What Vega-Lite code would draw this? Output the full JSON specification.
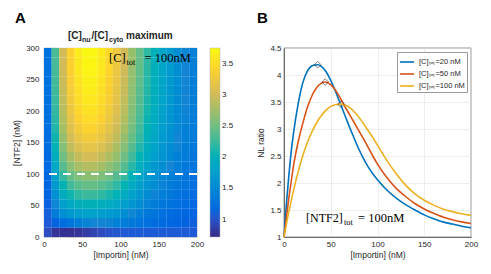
{
  "$schema": "https://vega.github.io/schema/vega-lite/v6.json",
  "padding": {"left": 12, "top": 10, "right": 5, "bottom": 5},
  "spacing": 21,
  "config": {
    "font": "Liberation Sans",
    "view": {"stroke": "#262626", "strokeWidth": 0.6},
    "axis": {"labelFontSize": 8, "titleFontSize": 8.5, "titleFontWeight": "normal", "labelColor": "#262626", "titleColor": "#262626", "tickSize": 0, "tickColor": "transparent", "domainColor": "#262626", "domainWidth": 0.6, "gridColor": "#e3e3e3", "gridWidth": 0.6, "labelFlush": false}
  },
  "datasets": {
    "heat": [
      {"i":5,"n":7.5,"v":0.95},{"i":15,"n":7.5,"v":0.8},{"i":25,"n":7.5,"v":0.77},{"i":35,"n":7.5,"v":0.77},{"i":45,"n":7.5,"v":0.8},{"i":55,"n":7.5,"v":0.85},{"i":65,"n":7.5,"v":0.9},{"i":75,"n":7.5,"v":0.95},{"i":85,"n":7.5,"v":1.0},{"i":95,"n":7.5,"v":1.02},{"i":105,"n":7.5,"v":1.04},{"i":115,"n":7.5,"v":1.05},{"i":125,"n":7.5,"v":1.05},{"i":135,"n":7.5,"v":1.05},{"i":145,"n":7.5,"v":1.05},{"i":155,"n":7.5,"v":1.05},{"i":165,"n":7.5,"v":1.05},{"i":175,"n":7.5,"v":1.05},{"i":185,"n":7.5,"v":1.05},{"i":195,"n":7.5,"v":1.05},
      {"i":5,"n":22.5,"v":1.05},{"i":15,"n":22.5,"v":1.1},{"i":25,"n":22.5,"v":1.2},{"i":35,"n":22.5,"v":1.3},{"i":45,"n":22.5,"v":1.38},{"i":55,"n":22.5,"v":1.45},{"i":65,"n":22.5,"v":1.48},{"i":75,"n":22.5,"v":1.48},{"i":85,"n":22.5,"v":1.46},{"i":95,"n":22.5,"v":1.42},{"i":105,"n":22.5,"v":1.38},{"i":115,"n":22.5,"v":1.33},{"i":125,"n":22.5,"v":1.28},{"i":135,"n":22.5,"v":1.24},{"i":145,"n":22.5,"v":1.2},{"i":155,"n":22.5,"v":1.17},{"i":165,"n":22.5,"v":1.15},{"i":175,"n":22.5,"v":1.12},{"i":185,"n":22.5,"v":1.1},{"i":195,"n":22.5,"v":1.08},
      {"i":5,"n":37.5,"v":1.07},{"i":15,"n":37.5,"v":1.37},{"i":25,"n":37.5,"v":1.58},{"i":35,"n":37.5,"v":1.69},{"i":45,"n":37.5,"v":1.75},{"i":55,"n":37.5,"v":1.78},{"i":65,"n":37.5,"v":1.78},{"i":75,"n":37.5,"v":1.75},{"i":85,"n":37.5,"v":1.7},{"i":95,"n":37.5,"v":1.65},{"i":105,"n":37.5,"v":1.58},{"i":115,"n":37.5,"v":1.49},{"i":125,"n":37.5,"v":1.41},{"i":135,"n":37.5,"v":1.34},{"i":145,"n":37.5,"v":1.29},{"i":155,"n":37.5,"v":1.24},{"i":165,"n":37.5,"v":1.2},{"i":175,"n":37.5,"v":1.16},{"i":185,"n":37.5,"v":1.14},{"i":195,"n":37.5,"v":1.12},
      {"i":5,"n":52.5,"v":1.09},{"i":15,"n":52.5,"v":1.49},{"i":25,"n":52.5,"v":1.76},{"i":35,"n":52.5,"v":1.91},{"i":45,"n":52.5,"v":1.99},{"i":55,"n":52.5,"v":2.03},{"i":65,"n":52.5,"v":2.03},{"i":75,"n":52.5,"v":1.99},{"i":85,"n":52.5,"v":1.93},{"i":95,"n":52.5,"v":1.85},{"i":105,"n":52.5,"v":1.76},{"i":115,"n":52.5,"v":1.65},{"i":125,"n":52.5,"v":1.55},{"i":135,"n":52.5,"v":1.45},{"i":145,"n":52.5,"v":1.38},{"i":155,"n":52.5,"v":1.32},{"i":165,"n":52.5,"v":1.27},{"i":175,"n":52.5,"v":1.22},{"i":185,"n":52.5,"v":1.19},{"i":195,"n":52.5,"v":1.15},
      {"i":5,"n":67.5,"v":1.11},{"i":15,"n":67.5,"v":1.6},{"i":25,"n":67.5,"v":1.93},{"i":35,"n":67.5,"v":2.1},{"i":45,"n":67.5,"v":2.2},{"i":55,"n":67.5,"v":2.25},{"i":65,"n":67.5,"v":2.25},{"i":75,"n":67.5,"v":2.2},{"i":85,"n":67.5,"v":2.13},{"i":95,"n":67.5,"v":2.04},{"i":105,"n":67.5,"v":1.93},{"i":115,"n":67.5,"v":1.79},{"i":125,"n":67.5,"v":1.66},{"i":135,"n":67.5,"v":1.55},{"i":145,"n":67.5,"v":1.46},{"i":155,"n":67.5,"v":1.39},{"i":165,"n":67.5,"v":1.33},{"i":175,"n":67.5,"v":1.26},{"i":185,"n":67.5,"v":1.23},{"i":195,"n":67.5,"v":1.19},
      {"i":5,"n":82.5,"v":1.13},{"i":15,"n":82.5,"v":1.7},{"i":25,"n":82.5,"v":2.07},{"i":35,"n":82.5,"v":2.28},{"i":45,"n":82.5,"v":2.39},{"i":55,"n":82.5,"v":2.45},{"i":65,"n":82.5,"v":2.45},{"i":75,"n":82.5,"v":2.39},{"i":85,"n":82.5,"v":2.31},{"i":95,"n":82.5,"v":2.2},{"i":105,"n":82.5,"v":2.07},{"i":115,"n":82.5,"v":1.91},{"i":125,"n":82.5,"v":1.77},{"i":135,"n":82.5,"v":1.64},{"i":145,"n":82.5,"v":1.54},{"i":155,"n":82.5,"v":1.45},{"i":165,"n":82.5,"v":1.38},{"i":175,"n":82.5,"v":1.3},{"i":185,"n":82.5,"v":1.26},{"i":195,"n":82.5,"v":1.22},
      {"i":5,"n":97.5,"v":1.15},{"i":15,"n":97.5,"v":1.79},{"i":25,"n":97.5,"v":2.22},{"i":35,"n":97.5,"v":2.45},{"i":45,"n":97.5,"v":2.58},{"i":55,"n":97.5,"v":2.65},{"i":65,"n":97.5,"v":2.65},{"i":75,"n":97.5,"v":2.58},{"i":85,"n":97.5,"v":2.49},{"i":95,"n":97.5,"v":2.37},{"i":105,"n":97.5,"v":2.22},{"i":115,"n":97.5,"v":2.04},{"i":125,"n":97.5,"v":1.87},{"i":135,"n":97.5,"v":1.73},{"i":145,"n":97.5,"v":1.61},{"i":155,"n":97.5,"v":1.51},{"i":165,"n":97.5,"v":1.43},{"i":175,"n":97.5,"v":1.35},{"i":185,"n":97.5,"v":1.3},{"i":195,"n":97.5,"v":1.25},
      {"i":5,"n":112.5,"v":1.17},{"i":15,"n":112.5,"v":1.89},{"i":25,"n":112.5,"v":2.37},{"i":35,"n":112.5,"v":2.63},{"i":45,"n":112.5,"v":2.78},{"i":55,"n":112.5,"v":2.85},{"i":65,"n":112.5,"v":2.85},{"i":75,"n":112.5,"v":2.78},{"i":85,"n":112.5,"v":2.67},{"i":95,"n":112.5,"v":2.54},{"i":105,"n":112.5,"v":2.37},{"i":115,"n":112.5,"v":2.17},{"i":125,"n":112.5,"v":1.98},{"i":135,"n":112.5,"v":1.81},{"i":145,"n":112.5,"v":1.68},{"i":155,"n":112.5,"v":1.57},{"i":165,"n":112.5,"v":1.48},{"i":175,"n":112.5,"v":1.39},{"i":185,"n":112.5,"v":1.33},{"i":195,"n":112.5,"v":1.28},
      {"i":5,"n":127.5,"v":1.18},{"i":15,"n":127.5,"v":1.97},{"i":25,"n":127.5,"v":2.49},{"i":35,"n":127.5,"v":2.78},{"i":45,"n":127.5,"v":2.94},{"i":55,"n":127.5,"v":3.02},{"i":65,"n":127.5,"v":3.02},{"i":75,"n":127.5,"v":2.94},{"i":85,"n":127.5,"v":2.82},{"i":95,"n":127.5,"v":2.68},{"i":105,"n":127.5,"v":2.49},{"i":115,"n":127.5,"v":2.27},{"i":125,"n":127.5,"v":2.07},{"i":135,"n":127.5,"v":1.89},{"i":145,"n":127.5,"v":1.75},{"i":155,"n":127.5,"v":1.63},{"i":165,"n":127.5,"v":1.53},{"i":175,"n":127.5,"v":1.42},{"i":185,"n":127.5,"v":1.36},{"i":195,"n":127.5,"v":1.3},
      {"i":5,"n":142.5,"v":1.2},{"i":15,"n":142.5,"v":2.04},{"i":25,"n":142.5,"v":2.61},{"i":35,"n":142.5,"v":2.91},{"i":45,"n":142.5,"v":3.08},{"i":55,"n":142.5,"v":3.17},{"i":65,"n":142.5,"v":3.17},{"i":75,"n":142.5,"v":3.08},{"i":85,"n":142.5,"v":2.95},{"i":95,"n":142.5,"v":2.8},{"i":105,"n":142.5,"v":2.61},{"i":115,"n":142.5,"v":2.37},{"i":125,"n":142.5,"v":2.15},{"i":135,"n":142.5,"v":1.95},{"i":145,"n":142.5,"v":1.8},{"i":155,"n":142.5,"v":1.67},{"i":165,"n":142.5,"v":1.56},{"i":175,"n":142.5,"v":1.46},{"i":185,"n":142.5,"v":1.39},{"i":195,"n":142.5,"v":1.33},
      {"i":5,"n":157.5,"v":1.21},{"i":15,"n":157.5,"v":2.1},{"i":25,"n":157.5,"v":2.7},{"i":35,"n":157.5,"v":3.02},{"i":45,"n":157.5,"v":3.21},{"i":55,"n":157.5,"v":3.3},{"i":65,"n":157.5,"v":3.3},{"i":75,"n":157.5,"v":3.21},{"i":85,"n":157.5,"v":3.07},{"i":95,"n":157.5,"v":2.91},{"i":105,"n":157.5,"v":2.7},{"i":115,"n":157.5,"v":2.45},{"i":125,"n":157.5,"v":2.22},{"i":135,"n":157.5,"v":2.01},{"i":145,"n":157.5,"v":1.85},{"i":155,"n":157.5,"v":1.71},{"i":165,"n":157.5,"v":1.6},{"i":175,"n":157.5,"v":1.48},{"i":185,"n":157.5,"v":1.41},{"i":195,"n":157.5,"v":1.35},
      {"i":5,"n":172.5,"v":1.22},{"i":15,"n":172.5,"v":2.15},{"i":25,"n":172.5,"v":2.78},{"i":35,"n":172.5,"v":3.11},{"i":45,"n":172.5,"v":3.3},{"i":55,"n":172.5,"v":3.4},{"i":65,"n":172.5,"v":3.4},{"i":75,"n":172.5,"v":3.3},{"i":85,"n":172.5,"v":3.16},{"i":95,"n":172.5,"v":2.99},{"i":105,"n":172.5,"v":2.78},{"i":115,"n":172.5,"v":2.51},{"i":125,"n":172.5,"v":2.27},{"i":135,"n":172.5,"v":2.06},{"i":145,"n":172.5,"v":1.89},{"i":155,"n":172.5,"v":1.74},{"i":165,"n":172.5,"v":1.62},{"i":175,"n":172.5,"v":1.5},{"i":185,"n":172.5,"v":1.43},{"i":195,"n":172.5,"v":1.36},
      {"i":5,"n":187.5,"v":1.22},{"i":15,"n":187.5,"v":2.19},{"i":25,"n":187.5,"v":2.84},{"i":35,"n":187.5,"v":3.18},{"i":45,"n":187.5,"v":3.38},{"i":55,"n":187.5,"v":3.48},{"i":65,"n":187.5,"v":3.48},{"i":75,"n":187.5,"v":3.38},{"i":85,"n":187.5,"v":3.23},{"i":95,"n":187.5,"v":3.06},{"i":105,"n":187.5,"v":2.84},{"i":115,"n":187.5,"v":2.56},{"i":125,"n":187.5,"v":2.31},{"i":135,"n":187.5,"v":2.09},{"i":145,"n":187.5,"v":1.92},{"i":155,"n":187.5,"v":1.77},{"i":165,"n":187.5,"v":1.64},{"i":175,"n":187.5,"v":1.52},{"i":185,"n":187.5,"v":1.45},{"i":195,"n":187.5,"v":1.37},
      {"i":5,"n":202.5,"v":1.23},{"i":15,"n":202.5,"v":2.22},{"i":25,"n":202.5,"v":2.88},{"i":35,"n":202.5,"v":3.24},{"i":45,"n":202.5,"v":3.44},{"i":55,"n":202.5,"v":3.54},{"i":65,"n":202.5,"v":3.54},{"i":75,"n":202.5,"v":3.44},{"i":85,"n":202.5,"v":3.29},{"i":95,"n":202.5,"v":3.11},{"i":105,"n":202.5,"v":2.88},{"i":115,"n":202.5,"v":2.6},{"i":125,"n":202.5,"v":2.35},{"i":135,"n":202.5,"v":2.12},{"i":145,"n":202.5,"v":1.94},{"i":155,"n":202.5,"v":1.79},{"i":165,"n":202.5,"v":1.66},{"i":175,"n":202.5,"v":1.53},{"i":185,"n":202.5,"v":1.46},{"i":195,"n":202.5,"v":1.38},
      {"i":5,"n":217.5,"v":1.23},{"i":15,"n":217.5,"v":2.24},{"i":25,"n":217.5,"v":2.92},{"i":35,"n":217.5,"v":3.28},{"i":45,"n":217.5,"v":3.49},{"i":55,"n":217.5,"v":3.59},{"i":65,"n":217.5,"v":3.59},{"i":75,"n":217.5,"v":3.49},{"i":85,"n":217.5,"v":3.33},{"i":95,"n":217.5,"v":3.15},{"i":105,"n":217.5,"v":2.92},{"i":115,"n":217.5,"v":2.63},{"i":125,"n":217.5,"v":2.37},{"i":135,"n":217.5,"v":2.14},{"i":145,"n":217.5,"v":1.96},{"i":155,"n":217.5,"v":1.8},{"i":165,"n":217.5,"v":1.67},{"i":175,"n":217.5,"v":1.54},{"i":185,"n":217.5,"v":1.47},{"i":195,"n":217.5,"v":1.39},
      {"i":5,"n":232.5,"v":1.24},{"i":15,"n":232.5,"v":2.26},{"i":25,"n":232.5,"v":2.95},{"i":35,"n":232.5,"v":3.31},{"i":45,"n":232.5,"v":3.52},{"i":55,"n":232.5,"v":3.63},{"i":65,"n":232.5,"v":3.63},{"i":75,"n":232.5,"v":3.52},{"i":85,"n":232.5,"v":3.37},{"i":95,"n":232.5,"v":3.18},{"i":105,"n":232.5,"v":2.95},{"i":115,"n":232.5,"v":2.66},{"i":125,"n":232.5,"v":2.39},{"i":135,"n":232.5,"v":2.16},{"i":145,"n":232.5,"v":1.97},{"i":155,"n":232.5,"v":1.82},{"i":165,"n":232.5,"v":1.68},{"i":175,"n":232.5,"v":1.55},{"i":185,"n":232.5,"v":1.47},{"i":195,"n":232.5,"v":1.39},
      {"i":5,"n":247.5,"v":1.24},{"i":15,"n":247.5,"v":2.28},{"i":25,"n":247.5,"v":2.97},{"i":35,"n":247.5,"v":3.34},{"i":45,"n":247.5,"v":3.55},{"i":55,"n":247.5,"v":3.66},{"i":65,"n":247.5,"v":3.66},{"i":75,"n":247.5,"v":3.55},{"i":85,"n":247.5,"v":3.39},{"i":95,"n":247.5,"v":3.21},{"i":105,"n":247.5,"v":2.97},{"i":115,"n":247.5,"v":2.68},{"i":125,"n":247.5,"v":2.41},{"i":135,"n":247.5,"v":2.17},{"i":145,"n":247.5,"v":1.98},{"i":155,"n":247.5,"v":1.82},{"i":165,"n":247.5,"v":1.69},{"i":175,"n":247.5,"v":1.56},{"i":185,"n":247.5,"v":1.48},{"i":195,"n":247.5,"v":1.4},
      {"i":5,"n":262.5,"v":1.24},{"i":15,"n":262.5,"v":2.29},{"i":25,"n":262.5,"v":2.99},{"i":35,"n":262.5,"v":3.37},{"i":45,"n":262.5,"v":3.58},{"i":55,"n":262.5,"v":3.69},{"i":65,"n":262.5,"v":3.69},{"i":75,"n":262.5,"v":3.58},{"i":85,"n":262.5,"v":3.42},{"i":95,"n":262.5,"v":3.23},{"i":105,"n":262.5,"v":2.99},{"i":115,"n":262.5,"v":2.69},{"i":125,"n":262.5,"v":2.43},{"i":135,"n":262.5,"v":2.18},{"i":145,"n":262.5,"v":2.0},{"i":155,"n":262.5,"v":1.83},{"i":165,"n":262.5,"v":1.7},{"i":175,"n":262.5,"v":1.56},{"i":185,"n":262.5,"v":1.48},{"i":195,"n":262.5,"v":1.4},
      {"i":5,"n":277.5,"v":1.24},{"i":15,"n":277.5,"v":2.3},{"i":25,"n":277.5,"v":3.01},{"i":35,"n":277.5,"v":3.38},{"i":45,"n":277.5,"v":3.6},{"i":55,"n":277.5,"v":3.71},{"i":65,"n":277.5,"v":3.71},{"i":75,"n":277.5,"v":3.6},{"i":85,"n":277.5,"v":3.44},{"i":95,"n":277.5,"v":3.25},{"i":105,"n":277.5,"v":3.01},{"i":115,"n":277.5,"v":2.71},{"i":125,"n":277.5,"v":2.44},{"i":135,"n":277.5,"v":2.19},{"i":145,"n":277.5,"v":2.0},{"i":155,"n":277.5,"v":1.84},{"i":165,"n":277.5,"v":1.7},{"i":175,"n":277.5,"v":1.57},{"i":185,"n":277.5,"v":1.49},{"i":195,"n":277.5,"v":1.41},
      {"i":5,"n":292.5,"v":1.24},{"i":15,"n":292.5,"v":2.31},{"i":25,"n":292.5,"v":3.01},{"i":35,"n":292.5,"v":3.39},{"i":45,"n":292.5,"v":3.61},{"i":55,"n":292.5,"v":3.72},{"i":65,"n":292.5,"v":3.72},{"i":75,"n":292.5,"v":3.61},{"i":85,"n":292.5,"v":3.45},{"i":95,"n":292.5,"v":3.26},{"i":105,"n":292.5,"v":3.01},{"i":115,"n":292.5,"v":2.71},{"i":125,"n":292.5,"v":2.44},{"i":135,"n":292.5,"v":2.2},{"i":145,"n":292.5,"v":2.01},{"i":155,"n":292.5,"v":1.84},{"i":165,"n":292.5,"v":1.71},{"i":175,"n":292.5,"v":1.57},{"i":185,"n":292.5,"v":1.49},{"i":195,"n":292.5,"v":1.41}
    ],
    "lines": [
      {"c":20,"x":0,"y":1.0},{"c":20,"x":2.5,"y":1.6},{"c":20,"x":5,"y":2.1},{"c":20,"x":7.5,"y":2.55},{"c":20,"x":10,"y":2.9},{"c":20,"x":15,"y":3.45},{"c":20,"x":20,"y":3.85},{"c":20,"x":25,"y":4.07},{"c":20,"x":30,"y":4.17},{"c":20,"x":36,"y":4.19},{"c":20,"x":40,"y":4.16},{"c":20,"x":45,"y":4.06},{"c":20,"x":50,"y":3.9},{"c":20,"x":55,"y":3.7},{"c":20,"x":60,"y":3.48},{"c":20,"x":65,"y":3.26},{"c":20,"x":70,"y":3.04},{"c":20,"x":75,"y":2.83},{"c":20,"x":80,"y":2.63},{"c":20,"x":85,"y":2.45},{"c":20,"x":90,"y":2.3},{"c":20,"x":95,"y":2.17},{"c":20,"x":100,"y":2.06},{"c":20,"x":110,"y":1.87},{"c":20,"x":120,"y":1.72},{"c":20,"x":130,"y":1.6},{"c":20,"x":140,"y":1.5},{"c":20,"x":150,"y":1.41},{"c":20,"x":160,"y":1.34},{"c":20,"x":170,"y":1.28},{"c":20,"x":180,"y":1.24},{"c":20,"x":190,"y":1.2},{"c":20,"x":200,"y":1.17},
      {"c":50,"x":0,"y":1.0},{"c":50,"x":2.5,"y":1.35},{"c":50,"x":5,"y":1.7},{"c":50,"x":7.5,"y":2.0},{"c":50,"x":10,"y":2.3},{"c":50,"x":15,"y":2.75},{"c":50,"x":20,"y":3.1},{"c":50,"x":25,"y":3.4},{"c":50,"x":30,"y":3.62},{"c":50,"x":35,"y":3.77},{"c":50,"x":40,"y":3.85},{"c":50,"x":44,"y":3.87},{"c":50,"x":50,"y":3.82},{"c":50,"x":55,"y":3.72},{"c":50,"x":60,"y":3.58},{"c":50,"x":65,"y":3.42},{"c":50,"x":70,"y":3.27},{"c":50,"x":75,"y":3.12},{"c":50,"x":80,"y":2.97},{"c":50,"x":85,"y":2.82},{"c":50,"x":90,"y":2.66},{"c":50,"x":95,"y":2.5},{"c":50,"x":100,"y":2.35},{"c":50,"x":110,"y":2.1},{"c":50,"x":120,"y":1.9},{"c":50,"x":130,"y":1.75},{"c":50,"x":140,"y":1.62},{"c":50,"x":150,"y":1.52},{"c":50,"x":160,"y":1.44},{"c":50,"x":170,"y":1.37},{"c":50,"x":180,"y":1.32},{"c":50,"x":190,"y":1.28},{"c":50,"x":200,"y":1.25},
      {"c":100,"x":0,"y":1.0},{"c":100,"x":5,"y":1.45},{"c":100,"x":10,"y":1.85},{"c":100,"x":15,"y":2.2},{"c":100,"x":20,"y":2.5},{"c":100,"x":25,"y":2.75},{"c":100,"x":30,"y":2.95},{"c":100,"x":35,"y":3.12},{"c":100,"x":40,"y":3.25},{"c":100,"x":45,"y":3.35},{"c":100,"x":50,"y":3.42},{"c":100,"x":55,"y":3.45},{"c":100,"x":61,"y":3.46},{"c":100,"x":65,"y":3.45},{"c":100,"x":70,"y":3.4},{"c":100,"x":75,"y":3.32},{"c":100,"x":80,"y":3.22},{"c":100,"x":85,"y":3.1},{"c":100,"x":90,"y":2.97},{"c":100,"x":95,"y":2.84},{"c":100,"x":100,"y":2.7},{"c":100,"x":110,"y":2.42},{"c":100,"x":120,"y":2.17},{"c":100,"x":130,"y":1.96},{"c":100,"x":140,"y":1.8},{"c":100,"x":150,"y":1.68},{"c":100,"x":160,"y":1.59},{"c":100,"x":170,"y":1.52},{"c":100,"x":180,"y":1.47},{"c":100,"x":190,"y":1.43},{"c":100,"x":200,"y":1.4}
    ],
    "peaks": [{"c":20,"x":36,"y":4.19},{"c":50,"x":44,"y":3.87},{"c":100,"x":61,"y":3.46}],
    "one": [{}]
  },
  "hconcat": [
    {
      "width": 153,
      "height": 189,
      "view": {"stroke": "#d0d0d0"},
      "layer": [
        {
          "data": {"name": "heat"},
          "mark": {"type": "rect", "width": 7.8, "height": 9.6, "strokeWidth": 0},
          "encoding": {
            "x": {"field": "i", "type": "quantitative", "scale": {"domain": [0, 200], "nice": false, "zero": false}, "axis": {"title": "[Importin] (nM)", "tickCount": 5, "labelOverlap": false, "labelPadding": 3, "titlePadding": 2, "domainColor": "#c8c8c8"}},
            "y": {"field": "n", "type": "quantitative", "scale": {"domain": [0, 300], "nice": false, "zero": false}, "axis": {"title": "[NTF2] (nM)", "values": [0, 50, 100, 150, 200, 250, 300], "tickCount": 7, "labelOverlap": false, "labelPadding": 5, "titlePadding": 4, "domainColor": "#c8c8c8"}},
            "color": {"field": "v", "type": "quantitative", "scale": {"domain": [0.72, 3.75], "nice": false, "zero": false, "range": ["#352a87", "#0363e1", "#1485d4", "#06a7c6", "#38b99e", "#87bf77", "#d1bb59", "#fccf30", "#f9fb0e"]}, "legend": {"title": null, "values": [1, 1.5, 2, 2.5, 3, 3.5], "tickCount": 6, "format": ".2~f", "labelOverlap": false, "gradientLength": 189, "gradientThickness": 10, "offset": 13, "labelFontSize": 8, "labelColor": "#262626", "gradientStrokeColor": "#b0b0b0", "gradientStrokeWidth": 0.5, "padding": 0}}
          }
        },
        {
          "data": {"name": "one"},
          "mark": {"type": "rule", "color": "white", "strokeDash": [8, 6], "strokeWidth": 2},
          "encoding": {"y": {"datum": 100, "type": "quantitative"}}
        },
        {"data": {"name": "one"}, "mark": {"type": "text", "text": "A", "fontSize": 15, "fontWeight": "bold", "align": "left", "baseline": "alphabetic", "dx": -29, "dy": -25, "color": "black"}, "encoding": {"x": {"datum": 0, "type": "quantitative"}, "y": {"datum": 300, "type": "quantitative"}}},
        {"data": {"name": "one"}, "mark": {"type": "text", "text": "[C]", "fontSize": 10, "fontWeight": "bold", "align": "left", "baseline": "alphabetic", "dx": 24, "dy": -9, "color": "#262626"}, "encoding": {"x": {"datum": 0, "type": "quantitative"}, "y": {"datum": 300, "type": "quantitative"}}},
        {"data": {"name": "one"}, "mark": {"type": "text", "text": "nu", "fontSize": 7, "fontWeight": "bold", "align": "left", "baseline": "alphabetic", "dx": 38, "dy": -6, "color": "#262626"}, "encoding": {"x": {"datum": 0, "type": "quantitative"}, "y": {"datum": 300, "type": "quantitative"}}},
        {"data": {"name": "one"}, "mark": {"type": "text", "text": "/[C]", "fontSize": 10, "fontWeight": "bold", "align": "left", "baseline": "alphabetic", "dx": 47.5, "dy": -9, "color": "#262626"}, "encoding": {"x": {"datum": 0, "type": "quantitative"}, "y": {"datum": 300, "type": "quantitative"}}},
        {"data": {"name": "one"}, "mark": {"type": "text", "text": "cyto", "fontSize": 7, "fontWeight": "bold", "align": "left", "baseline": "alphabetic", "dx": 65, "dy": -6, "color": "#262626"}, "encoding": {"x": {"datum": 0, "type": "quantitative"}, "y": {"datum": 300, "type": "quantitative"}}},
        {"data": {"name": "one"}, "mark": {"type": "text", "text": "maximum", "fontSize": 10, "fontWeight": "bold", "align": "left", "baseline": "alphabetic", "dx": 82, "dy": -9, "color": "#262626"}, "encoding": {"x": {"datum": 0, "type": "quantitative"}, "y": {"datum": 300, "type": "quantitative"}}},
        {"data": {"name": "one"}, "mark": {"type": "text", "text": "[C]", "font": "Liberation Serif", "fontSize": 12.5, "align": "left", "baseline": "alphabetic", "dx": -11.5, "dy": 14, "color": "black"}, "encoding": {"x": {"datum": 100, "type": "quantitative"}, "y": {"datum": 300, "type": "quantitative"}}},
        {"data": {"name": "one"}, "mark": {"type": "text", "text": "tot", "font": "Liberation Serif", "fontSize": 8.5, "align": "left", "baseline": "alphabetic", "dx": 6, "dy": 16.5, "color": "black"}, "encoding": {"x": {"datum": 100, "type": "quantitative"}, "y": {"datum": 300, "type": "quantitative"}}},
        {"data": {"name": "one"}, "mark": {"type": "text", "text": "= 100nM", "font": "Liberation Serif", "fontSize": 12.5, "align": "left", "baseline": "alphabetic", "dx": 24, "dy": 14, "color": "black"}, "encoding": {"x": {"datum": 100, "type": "quantitative"}, "y": {"datum": 300, "type": "quantitative"}}}
      ]
    },
    {
      "width": 187,
      "height": 189,
      "layer": [
        {
          "data": {"name": "lines"},
          "mark": {"type": "line", "strokeWidth": 1.6, "interpolate": "monotone"},
          "encoding": {
            "x": {"field": "x", "type": "quantitative", "scale": {"domain": [0, 200], "nice": false, "zero": false}, "axis": {"title": "[Importin] (nM)", "values": [0, 50, 100, 150, 200], "labelOverlap": false, "grid": true, "labelPadding": 3, "titlePadding": 2}},
            "y": {"field": "y", "type": "quantitative", "scale": {"domain": [1, 4.5], "nice": false, "zero": false}, "axis": {"title": "NL ratio", "values": [1, 1.5, 2, 2.5, 3, 3.5, 4, 4.5], "tickCount": 8, "labelOverlap": false, "format": ".1~f", "grid": true, "labelPadding": 3, "titlePadding": 4}},
            "color": {"field": "c", "type": "nominal", "scale": {"domain": [20, 50, 100], "range": ["#0072BD", "#D95319", "#EDB120"]}, "legend": {"title": null, "orient": "top-right", "offset": 4, "symbolType": "stroke", "symbolSize": 200, "symbolStrokeWidth": 1.6, "labelFontSize": 7.5, "labelColor": "#262626", "labelExpr": "'[C]ₜₒₜ=' + datum.label + ' nM'", "fillColor": "white", "strokeColor": "#9a9a9a", "padding": 2, "rowPadding": 0, "symbolOffset": 0}}
          }
        },
        {
          "data": {"name": "peaks"},
          "mark": {"type": "point", "shape": "diamond", "filled": false, "stroke": "#222222", "strokeWidth": 0.8, "size": 45},
          "encoding": {"x": {"field": "x", "type": "quantitative"}, "y": {"field": "y", "type": "quantitative"}}
        },
        {"data": {"name": "one"}, "mark": {"type": "text", "text": "B", "fontSize": 15, "fontWeight": "bold", "align": "left", "baseline": "alphabetic", "dx": -27, "dy": -214, "color": "black"}, "encoding": {"x": {"datum": 0, "type": "quantitative"}, "y": {"datum": 1, "type": "quantitative"}}},
        {"data": {"name": "one"}, "mark": {"type": "text", "text": "[NTF2]", "font": "Liberation Serif", "fontSize": 12, "align": "left", "baseline": "alphabetic", "dx": 22, "dy": -15, "color": "black"}, "encoding": {"x": {"datum": 0, "type": "quantitative"}, "y": {"datum": 1, "type": "quantitative"}}},
        {"data": {"name": "one"}, "mark": {"type": "text", "text": "tot", "font": "Liberation Serif", "fontSize": 8.5, "align": "left", "baseline": "alphabetic", "dx": 60, "dy": -12.5, "color": "black"}, "encoding": {"x": {"datum": 0, "type": "quantitative"}, "y": {"datum": 1, "type": "quantitative"}}},
        {"data": {"name": "one"}, "mark": {"type": "text", "text": "= 100nM", "font": "Liberation Serif", "fontSize": 12.5, "align": "left", "baseline": "alphabetic", "dx": 74, "dy": -15, "color": "black"}, "encoding": {"x": {"datum": 0, "type": "quantitative"}, "y": {"datum": 1, "type": "quantitative"}}}
      ]
    }
  ]
}
